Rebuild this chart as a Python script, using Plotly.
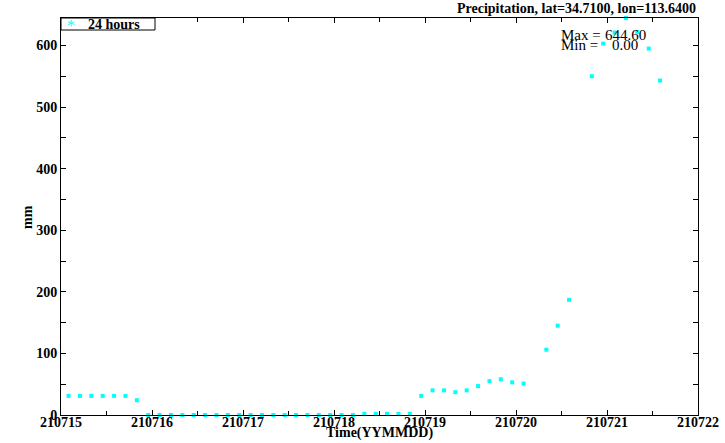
import plotly.graph_objects as go
import pandas as pd

# 3-hourly precipitation (mm), starting 2021-07-15 02:00; None = missing
values = [31, 31, 31, 31, 31, 31, 24, 0,
          0, 0, 0, 0, 0, 0, 0, 0,
          0, 0, 0, 0, 0, 0, 0, 0,
          0, 0, 2, 2, 2, 2, 2, 31,
          40, 40, 37, 40, 47, 55, 58, 53,
          51, None, 106, 145, 187, None, 550, 603,
          621, 644.6, 622, 595, 543]
times = pd.date_range("2021-07-15 02:00", periods=len(values), freq="3h")
tick_labels = ["210715", "210716", "210717", "210718", "210719", "210720", "210721", "210722"]
tick_vals = pd.date_range("2021-07-15", "2021-07-22", freq="1D")
y_ticks = [0, 100, 200, 300, 400, 500, 600]

title_text = "Precipitation, lat=34.7100, lon=113.6400"
legend_name = "24 hours"

FONT = "Liberation Serif"
L, R, T, B = 61, 27, 18, 28
W, H = 725, 443
PW, PH = W - L - R, H - T - B

def px(x):
    return (x - L) / PW

def py(y):
    return (H - B - y) / PH

fig = go.Figure()
fig.add_trace(go.Scatter(
    x=times, y=values, mode="markers",
    marker=dict(symbol="square", size=4, color="#00FFFF", line=dict(width=0)),
    showlegend=False, cliponaxis=False, hoverinfo="skip",
))

axis_common = dict(
    showline=True, linecolor="black", linewidth=1, mirror="ticks",
    ticks="inside", ticklen=5, tickcolor="black", showgrid=False, zeroline=False,
    tickfont=dict(family=FONT, size=14, color="black"), automargin=False,
)

fig.update_xaxes(
    **axis_common,
    type="date",
    range=["2021-07-15", "2021-07-22"],
    tickvals=list(tick_vals), ticktext=["<b>%s</b>" % t for t in tick_labels],
    minor=dict(ticks="inside", ticklen=4, dtick=43200000, tick0="2021-07-15", tickcolor="black"),
    ticklabelstandoff=-6,
)
fig.update_yaxes(
    **axis_common,
    range=[0, 644.6],
    tickvals=y_ticks,
    ticktext=["<b>%d</b>" % v for v in y_ticks],
    minor=dict(ticks="inside", ticklen=5, dtick=50, tickcolor="black"),
)

def anno(text, x, y, xanchor="left", size=14, color="black", **kw):
    d = dict(text=text, x=px(x), y=py(y), xref="paper", yref="paper",
             xanchor=xanchor, yanchor="middle", showarrow=False,
             font=dict(family=FONT, size=size, color=color))
    d.update(kw)
    return d

annos = [
    anno("<b>" + title_text + "</b>", 698, 8, xanchor="right"),
    anno("<b>Time(YYMMDD)</b>", 379, 433, xanchor="center"),
    anno("<b>mm</b>", 28, 217, xanchor="center", textangle=-90),
    anno("Max =", 559, 35, size=15),
    anno("644.60", 648, 35, xanchor="right", size=15),
    anno("Min =", 559, 45, size=15),
    anno("0.00", 640, 45, xanchor="right", size=15),
    anno("*", 71, 26, xanchor="center", size=16, color="#00FFFF"),
    anno("<b>" + legend_name + "</b>", 86, 24),
]

fig.update_layout(
    width=W, height=H,
    margin=dict(l=L, r=R, t=T, b=B),
    paper_bgcolor="white", plot_bgcolor="white",
    annotations=annos,
    shapes=[dict(type="rect", xref="paper", yref="paper",
                 x0=0, x1=px(155), y0=py(30), y1=1,
                 line=dict(color="black", width=1), fillcolor="white", layer="above")],
)

fig.write_html("out.html", config={"displayModeBar": False},
               post_script="document.body.style.margin='0';document.body.style.overflow='hidden';")
